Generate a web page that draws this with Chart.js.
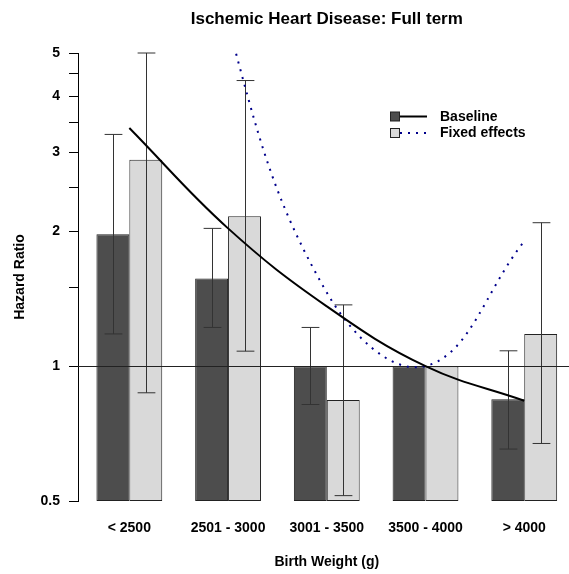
<!DOCTYPE html>
<html>
<head>
<meta charset="utf-8">
<title>Ischemic Heart Disease: Full term</title>
<script src="https://cdn.jsdelivr.net/npm/chart.js@4.4.1/dist/chart.umd.min.js"></script>
<style>
  html, body { margin: 0; padding: 0; background: #fff; overflow: hidden; }
  #wrap { width: 569px; height: 574px; position: relative; }
</style>
</head>
<body>
<div id="wrap"><canvas id="hrChart"></canvas></div>
<script>
// birth weight groups (3500 - 4000 is the reference group)
const weightGroups = ["< 2500", "2501 - 3000", "3001 - 3500", "3500 - 4000", "> 4000"];

// hazard ratios with 95% CI, baseline model
const baselineHR   = [1.97, 1.57, 1.00, 1.00, 0.844];
const baselineLow  = [1.18, 1.22, 0.821, null, 0.653];
const baselineHigh = [3.29, 2.03, 1.22, null, 1.082];

// hazard ratios with 95% CI, fixed effects model
const fixedHR   = [2.89, 2.16, 0.84, 1.00, 1.18];
const fixedLow  = [0.872, 1.08, 0.514, null, 0.672];
const fixedHigh = [5.00, 4.34, 1.37, null, 2.09];

// fitted trend curves at each group
const baselineTrend = [3.40, 2.03, 1.36, 1.00, 0.837];
const fixedTrend    = [60, 5.8, 1.46, 1.00, 1.90];

const yTicks = [0.5, 1, 1.5, 2, 2.5, 3, 3.5, 4, 4.5, 5];
const yTickLabels = [0.5, 1, 2, 3, 4, 5];

const DARK = "#4d4d4d", LIGHT = "#d9d9d9", NAVY = "#00008b";
const FONT = "'Liberation Sans', Arial, sans-serif";

// each group takes 3 bar widths: a gap and two bars
const groupX = i => 2 + 3 * i;
const pts = vals => vals.map((v, i) => ({ x: groupX(i), y: v }));

const errorBars = {
  id: "errorBars",
  afterDatasetDraw(chart, args) {
    const ds = chart.data.datasets[args.index];
    if (!ds.low) return;
    const y = chart.scales.y;
    const ctx = chart.ctx;
    ctx.save();
    ctx.strokeStyle = "#333";
    ctx.lineWidth = 1;
    args.meta.data.forEach((bar, i) => {
      if (ds.low[i] == null) return;
      const x = Math.round(bar.x) + 0.5;
      const cap = bar.width * 0.27;
      const top = y.getPixelForValue(ds.high[i]);
      const bot = y.getPixelForValue(ds.low[i]);
      ctx.beginPath();
      ctx.moveTo(x, top); ctx.lineTo(x, bot);
      ctx.moveTo(x - cap, top); ctx.lineTo(x + cap, top);
      ctx.moveTo(x - cap, bot); ctx.lineTo(x + cap, bot);
      ctx.stroke();
    });
    // reference line at HR = 1, once both bar sets are down
    if (args.index === 0) {
      const { left, right } = chart.chartArea;
      const y1 = Math.round(y.getPixelForValue(1)) + 0.5;
      ctx.strokeStyle = "#222";
      ctx.beginPath();
      ctx.moveTo(left, y1);
      ctx.lineTo(right, y1);
      ctx.stroke();
    }
    ctx.restore();
  }
};

const decorations = {
  id: "decorations",
  afterDraw(chart) {
    const ctx = chart.ctx;
    const { top, bottom } = chart.chartArea;
    const xs = chart.scales.x;
    const cx = (xs.getPixelForValue(groupX(0)) + xs.getPixelForValue(groupX(weightGroups.length - 1))) / 2;
    ctx.save();
    ctx.fillStyle = "#000";
    ctx.textAlign = "center";
    ctx.textBaseline = "middle";

    ctx.font = "bold 17px " + FONT;
    ctx.fillText("Ischemic Heart Disease: Full term", cx, 19.5);

    ctx.font = "bold 14px " + FONT;
    ctx.fillText("Birth Weight (g)", cx, 562);

    ctx.save();
    ctx.translate(20, (top + bottom) / 2);
    ctx.rotate(-Math.PI / 2);
    ctx.fillText("Hazard Ratio", 0, 0);
    ctx.restore();

    // legend
    const rows = [
      { label: "Baseline", fill: DARK, line: "#000", dash: [], y: 116.5 },
      { label: "Fixed effects", fill: LIGHT, line: NAVY, dash: [2, 6], y: 133 }
    ];
    ctx.textAlign = "left";
    rows.forEach(r => {
      ctx.strokeStyle = r.line;
      ctx.lineWidth = 2;
      ctx.setLineDash(r.dash);
      ctx.beginPath();
      ctx.moveTo(400, r.y);
      ctx.lineTo(427, r.y);
      ctx.stroke();
      ctx.setLineDash([]);
      ctx.fillStyle = r.fill;
      ctx.fillRect(390, r.y - 4.5, 10, 9);
      ctx.strokeStyle = "#222";
      ctx.lineWidth = 1;
      ctx.strokeRect(390.5, r.y - 4.5, 9, 9);
      ctx.fillStyle = "#000";
      ctx.fillText(r.label, 440, r.y + 0.5);
    });
    ctx.restore();
  }
};

Chart.defaults.font.family = FONT;
Chart.defaults.color = "#000";

new Chart(document.getElementById("hrChart"), {
  type: "bar",
  data: {
    datasets: [
      {
        label: "Baseline",
        data: pts(baselineHR),
        low: baselineLow,
        high: baselineHigh,
        backgroundColor: DARK,
        borderColor: "#222",
        borderWidth: 1,
        borderSkipped: false,
        categoryPercentage: 2 / 3,
        barPercentage: 1,
        order: 1
      },
      {
        label: "Fixed effects",
        data: pts(fixedHR),
        low: fixedLow,
        high: fixedHigh,
        backgroundColor: LIGHT,
        borderColor: "#222",
        borderWidth: 1,
        borderSkipped: false,
        categoryPercentage: 2 / 3,
        barPercentage: 1,
        order: 1
      },
      {
        type: "line",
        label: "Baseline trend",
        data: pts(baselineTrend),
        borderColor: "#000",
        borderWidth: 2,
        pointRadius: 0,
        tension: 0.4,
        fill: false,
        order: 0
      },
      {
        type: "line",
        label: "Fixed effects trend",
        data: pts(fixedTrend),
        borderColor: NAVY,
        borderWidth: 2,
        borderDash: [2, 6],
        borderCapStyle: "butt",
        pointRadius: 0,
        tension: 0.4,
        fill: false,
        order: 0
      }
    ]
  },
  options: {
    responsive: true,
    maintainAspectRatio: false,
    animation: false,
    devicePixelRatio: 1,
    layout: { padding: { top: 53, right: 0, bottom: 0, left: 0 } },
    plugins: {
      legend: { display: false },
      tooltip: { enabled: false }
    },
    scales: {
      x: {
        type: "linear",
        min: 0.44,
        max: 15.36,
        offset: false,
        afterBuildTicks: s => { s.ticks = weightGroups.map((g, i) => ({ value: groupX(i) })); },
        afterFit: s => { s.height = 73; },
        ticks: {
          autoSkip: false,
          maxRotation: 0,
          padding: 19,
          font: { size: 14, weight: "bold" },
          callback: v => weightGroups[(v - 2) / 3]
        },
        grid: { display: false, drawTicks: false },
        border: { display: false }
      },
      y: {
        type: "logarithmic",
        min: 0.5,
        max: 5,
        afterBuildTicks: s => { s.ticks = yTicks.map(v => ({ value: v })); },
        afterFit: s => { s.width = 78; },
        ticks: {
          autoSkip: false,
          padding: 9,
          font: { size: 14, weight: "bold" },
          callback: v => yTickLabels.includes(v) ? String(v) : ""
        },
        grid: { drawOnChartArea: false, drawTicks: true, tickLength: 9, color: "#000" },
        border: { display: true, color: "#000" }
      }
    }
  },
  plugins: [errorBars, decorations]
});
</script>
</body>
</html>
